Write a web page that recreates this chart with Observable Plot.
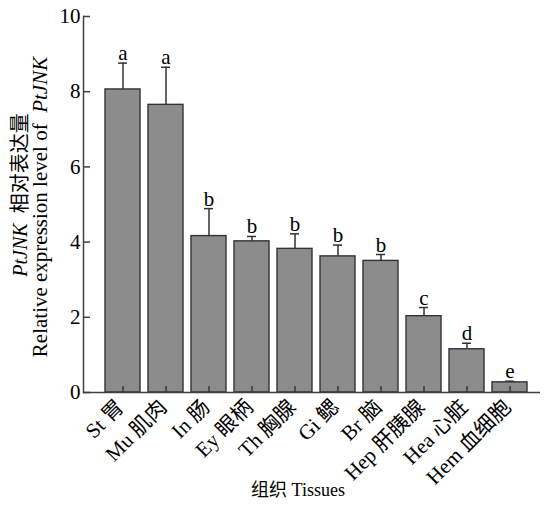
<!DOCTYPE html>
<html><head><meta charset="utf-8">
<script src="https://cdn.jsdelivr.net/npm/d3@7"></script>
<script src="https://cdn.jsdelivr.net/npm/@observablehq/plot@0.6"></script>
<style>body{margin:0;background:#fff} svg{display:block}</style>
</head><body><div id="chart"></div>
<script>
const categories = ["St 胃","Mu 肌肉","In 肠","Ey 眼柄","Th 胸腺","Gi 鳃","Br 脑","Hep 肝胰腺","Hea 心脏","Hem 血细胞"];
const means  = [8.06, 7.65, 4.16, 4.02, 3.82, 3.62, 3.50, 2.03, 1.15, 0.27];
const errors = [0.70, 1.00, 0.73, 0.13, 0.40, 0.30, 0.17, 0.23, 0.16, 0.03];
const letters = ["a","a","b","b","b","b","b","c","d","e"];
const yTicks = [0, 2, 4, 6, 8, 10];
const xTitle = "组织 Tissues";

const data = categories.map((c, i) => ({cat: c, mean: means[i], err: errors[i], top: means[i] + errors[i], letter: letters[i]}));
const FONT = '"Liberation Serif", "Times New Roman", "Noto Sans CJK SC", serif';
const AX = "#404040";

const chart = Plot.plot({
  width: 547, height: 510,
  marginLeft: 83, marginRight: 7, marginTop: 16, marginBottom: 118,
  style: {fontFamily: FONT, color: "#000", background: "#fff"},
  x: {type: "band", domain: categories, range: [100, 531], paddingInner: 0.19, paddingOuter: 0.095, axis: null},
  y: {domain: [0, 10], axis: null},
  marks: [
    Plot.ruleX(data, {x: "cat", y1: "mean", y2: "top", stroke: "#333", strokeWidth: 1.5}),
    Plot.tickY(data, {x: "cat", y: "top", insetLeft: 13, insetRight: 13, stroke: "#333", strokeWidth: 1.5}),
    Plot.barY(data, {x: "cat", y: "mean", fill: "#8c8c8c", stroke: "#333", strokeWidth: 1.4}),
    Plot.tickX(categories, {x: d => d, insetTop: 370, stroke: "#333", strokeWidth: 1.4}),
    Plot.text(data, {x: "cat", y: "top", text: "letter", dy: -3, lineAnchor: "bottom", fontSize: 21, fill: "#000"}),
    Plot.tickY(yTicks, {y: d => d, insetRight: 450, stroke: AX, strokeWidth: 1.5}),
    Plot.axisY({ticks: yTicks, tickSize: 0, tickPadding: 3, fontSize: 21, fill: "#000"}),
    Plot.ruleY([0], {stroke: AX, strokeWidth: 1.5}),
    Plot.frame({anchor: "left", stroke: AX, strokeWidth: 1.5}),
    Plot.text(categories, {x: d => d, frameAnchor: "bottom", rotate: -45, textAnchor: "end", dx: 2, dy: 16, fontSize: 21, fill: "#000"}),
    Plot.text([xTitle], {frameAnchor: "bottom", dx: -14, dy: 103, fontSize: 18, fill: "#000"})
  ]
});
document.getElementById("chart").appendChild(chart);

// Y-axis title with mixed italic parts
const svg = d3.select(chart);
const t1 = svg.append("text").attr("transform", "translate(27,195) rotate(-90)")
  .attr("text-anchor", "middle").attr("font-size", 20).attr("font-family", FONT).attr("fill", "#000")
  .style("white-space", "pre");
t1.append("tspan").attr("font-style", "italic").text("PtJNK");
t1.append("tspan").text("\u00a0\u00a0相对表达量");
const t2 = svg.append("text").attr("transform", "translate(46.5,207) rotate(-90)")
  .attr("text-anchor", "middle").attr("font-size", 21).attr("font-family", FONT).attr("fill", "#000")
  .style("white-space", "pre");
t2.append("tspan").text("Relative expression level of\u00a0\u00a0");
t2.append("tspan").attr("font-style", "italic").text("PtJNK");
</script>
</body></html>
